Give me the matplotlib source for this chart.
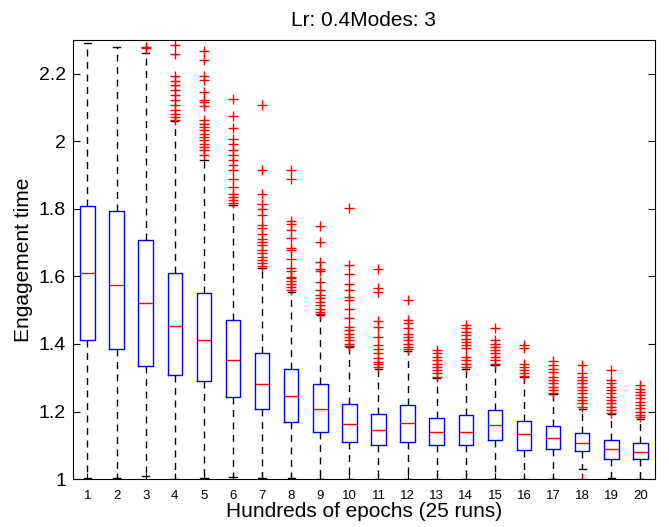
import numpy as np
import matplotlib.pyplot as plt

plt.rcParams['font.family'] = ['Liberation Sans', 'DejaVu Sans']

epochs = list(range(1, 21))

q1 = [1.413, 1.385, 1.336, 1.308, 1.290, 1.243, 1.206, 1.168, 1.140, 1.109,
      1.101, 1.110, 1.101, 1.100, 1.115, 1.085, 1.088, 1.082, 1.060, 1.058]
med = [1.611, 1.574, 1.522, 1.453, 1.412, 1.352, 1.282, 1.246, 1.208, 1.163,
       1.144, 1.165, 1.138, 1.140, 1.160, 1.132, 1.122, 1.107, 1.089, 1.081]
q3 = [1.809, 1.794, 1.709, 1.609, 1.551, 1.470, 1.374, 1.325, 1.280, 1.221,
      1.193, 1.219, 1.180, 1.191, 1.205, 1.173, 1.156, 1.135, 1.117, 1.107]
whis_hi = [2.292, 2.279, 2.263, 2.060, 1.944, 1.811, 1.626, 1.554, 1.485, 1.390,
           1.327, 1.379, 1.298, 1.327, 1.337, 1.301, 1.251, 1.206, 1.192, 1.177]
whis_lo = [1.004, 1.002, 1.009, 1.0, 1.002, 1.005, 1.002, 1.002, 1.0, 1.0,
           1.0, 1.0, 1.0, 1.0, 1.0, 1.0, 1.0, 1.03, 1.003, 1.0]

outliers = [
    [],
    [],
    [2.279, 2.277],
    [2.284, 2.259, 2.195, 2.180, 2.166, 2.151, 2.136, 2.121, 2.107, 2.092, 2.082, 2.072, 2.064],
    [2.267, 2.242, 2.195, 2.183, 2.146, 2.121, 2.116, 2.104, 2.062, 2.052, 2.042, 2.033, 2.023,
     2.013, 2.003, 1.993, 1.983, 1.973, 1.959],
    [2.126, 2.075, 2.039, 2.008, 1.993, 1.973, 1.959, 1.944, 1.929, 1.914, 1.890, 1.865, 1.845,
     1.835, 1.825, 1.816],
    [2.107, 1.916, 1.843, 1.814, 1.801, 1.781, 1.751, 1.742, 1.727, 1.712, 1.702, 1.692, 1.678,
     1.668, 1.658, 1.648, 1.639, 1.630],
    [1.916, 1.890, 1.764, 1.754, 1.737, 1.715, 1.683, 1.678, 1.653, 1.626, 1.616, 1.599, 1.594,
     1.587, 1.579, 1.569, 1.561],
    [1.749, 1.702, 1.643, 1.623, 1.616, 1.584, 1.559, 1.544, 1.535, 1.525, 1.515, 1.505, 1.495, 1.490],
    [1.804, 1.635, 1.606, 1.577, 1.561, 1.539, 1.530, 1.505, 1.478, 1.451, 1.441, 1.431, 1.421,
     1.411, 1.401, 1.393],
    [1.621, 1.567, 1.554, 1.468, 1.451, 1.421, 1.396, 1.384, 1.372, 1.357, 1.347, 1.340, 1.332],
    [1.530, 1.470, 1.461, 1.446, 1.431, 1.421, 1.411, 1.401, 1.391, 1.384],
    [1.382, 1.372, 1.362, 1.352, 1.342, 1.332, 1.322, 1.313, 1.301],
    [1.456, 1.446, 1.436, 1.426, 1.416, 1.406, 1.396, 1.387, 1.362, 1.352, 1.342, 1.332],
    [1.446, 1.411, 1.401, 1.391, 1.382, 1.372, 1.362, 1.352, 1.342],
    [1.396, 1.387, 1.342, 1.332, 1.322, 1.313, 1.305],
    [1.349, 1.337, 1.327, 1.318, 1.303, 1.293, 1.283, 1.273, 1.263, 1.255],
    [1.337, 1.313, 1.303, 1.293, 1.283, 1.273, 1.263, 1.254, 1.244, 1.234, 1.224, 1.214, 1.001],
    [1.324, 1.293, 1.283, 1.273, 1.263, 1.254, 1.244, 1.234, 1.224, 1.214, 1.204, 1.196],
    [1.278, 1.268, 1.258, 1.249, 1.239, 1.229, 1.219, 1.209, 1.199, 1.189, 1.184],
]

stats = []
for i in range(len(epochs)):
    stats.append({'med': med[i], 'q1': q1[i], 'q3': q3[i],
                  'whislo': whis_lo[i], 'whishi': whis_hi[i],
                  'fliers': np.array(outliers[i])})

fig = plt.figure(figsize=(6.69, 5.27), dpi=100)
ax = fig.add_axes([0.109, 0.091, 0.87, 0.833])

ax.bxp(stats, positions=epochs, widths=0.5, capwidths=0.25,
       boxprops=dict(color='blue', linewidth=1.0),
       medianprops=dict(color='red', linewidth=1.0),
       whiskerprops=dict(color='black', linestyle=(0, (5, 4)), linewidth=1.0),
       capprops=dict(color='black', linewidth=1.0),
       flierprops=dict(marker='+', markeredgecolor='red', markersize=7, linestyle='none'))

ax.set_xlim(0.5, 20.5)
ax.set_ylim(1.0, 2.3)
ax.set_xticks(epochs)
ax.set_xticklabels([str(e) for e in epochs], fontsize=9.5)
ax.set_yticks([1, 1.2, 1.4, 1.6, 1.8, 2, 2.2])
ax.set_yticklabels(['1', '1.2', '1.4', '1.6', '1.8', '2', '2.2'], fontsize=14)
ax.tick_params(axis='y', direction='in', right=True, length=5, pad=5)
ax.tick_params(axis='x', direction='in', length=4, pad=8)

ax.set_xlabel('Hundreds of epochs (25 runs)', fontsize=15, labelpad=0)
ax.set_ylabel('Engagement time', fontsize=15, labelpad=4)
ax.set_title('Lr: 0.4Modes: 3', fontsize=15, pad=10)

fig.savefig('out.png', dpi=100)
